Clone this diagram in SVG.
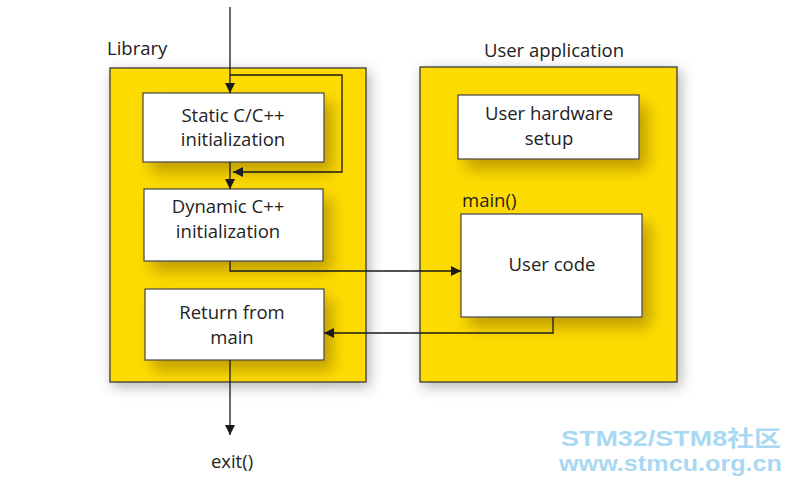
<svg xmlns="http://www.w3.org/2000/svg" width="792" height="484" viewBox="0 0 792 484">
<defs>
<filter id="outerShadow" x="-20%" y="-20%" width="140%" height="140%">
<feGaussianBlur in="SourceAlpha" stdDeviation="7"/>
<feOffset dx="3" dy="4" result="b"/>
<feFlood flood-color="#000" flood-opacity="0.3"/>
<feComposite in2="b" operator="in"/>
<feMerge><feMergeNode/><feMergeNode in="SourceGraphic"/></feMerge>
</filter>
<filter id="innerShadow" x="-30%" y="-30%" width="160%" height="170%">
<feGaussianBlur in="SourceAlpha" stdDeviation="8"/>
<feOffset dx="8" dy="10" result="b"/>
<feFlood flood-color="#8a6d00" flood-opacity="0.55"/>
<feComposite in2="b" operator="in"/>
<feMerge><feMergeNode/><feMergeNode in="SourceGraphic"/></feMerge>
</filter>
<marker id="arrow" viewBox="0 0 10 10" refX="10" refY="5" markerWidth="10" markerHeight="10" markerUnits="userSpaceOnUse" orient="auto">
<path d="M0,0 L10,5 L0,10 z" fill="#1a1a1a"/>
</marker>
</defs>
<style>
.outer{fill:#FFDC00;stroke:#3a3a3a;stroke-width:1.3}
.box{fill:#fff;stroke:#444;stroke-width:1.2}
.t{font-family:"Open Sans","Noto Sans",sans-serif;font-size:18.5px;fill:#222}
.c{text-anchor:middle}
.conn{fill:none;stroke:#1a1a1a;stroke-width:1.3}
.wm{font-family:"Liberation Sans","Noto Sans CJK SC",sans-serif;font-weight:bold;fill:#A9D9F2;font-size:22px}
</style>
<rect width="792" height="484" fill="#fff"/>

<g id="library">
<rect class="outer" x="110" y="68" width="256" height="314" filter="url(#outerShadow)"/>
<text class="t" x="107" y="55">Library</text>
</g>
<g id="userapp">
<rect class="outer" x="420" y="67" width="257" height="315" filter="url(#outerShadow)"/>
<text class="t c" x="554" y="57">User application</text>
<text class="t" x="462" y="207">main()</text>
</g>

<g id="static">
<rect class="box" x="143" y="93" width="181" height="69" filter="url(#innerShadow)"/>
<text class="t c" x="233" y="122">Static C/C++</text>
<text class="t c" x="233" y="146">initialization</text>
</g>
<g id="dynamic">
<rect class="box" x="144" y="189" width="179" height="72" filter="url(#innerShadow)"/>
<text class="t c" x="228" y="213">Dynamic C++</text>
<text class="t c" x="228" y="238">initialization</text>
</g>
<g id="return">
<rect class="box" x="145" y="289" width="179" height="71" filter="url(#innerShadow)"/>
<text class="t c" x="232" y="319">Return from</text>
<text class="t c" x="232" y="344">main</text>
</g>
<g id="hwsetup">
<rect class="box" x="458" y="95" width="181" height="64" filter="url(#innerShadow)"/>
<text class="t c" x="549" y="120">User hardware</text>
<text class="t c" x="549" y="145">setup</text>
</g>
<g id="usercode">
<rect class="box" x="461" y="214" width="181" height="103" filter="url(#innerShadow)"/>
<text class="t c" x="552" y="271">User code</text>
</g>
<g id="exit">
<text class="t c" x="232" y="468">exit()</text>
</g>

<g id="connectors">
<path class="conn" d="M230,7 V93" marker-end="url(#arrow)"/>
<path class="conn" d="M230,75 H342 V172 H233" marker-end="url(#arrow)"/>
<path class="conn" d="M230,162 V189" marker-end="url(#arrow)"/>
<path class="conn" d="M230,261 V271 H461" marker-end="url(#arrow)"/>
<path class="conn" d="M553,317 V333 H324" marker-end="url(#arrow)"/>
<path class="conn" d="M230,360 V435" marker-end="url(#arrow)"/>
</g>

<g id="watermark">
<text class="wm" x="561" y="446" textLength="220" lengthAdjust="spacingAndGlyphs">STM32/STM8社区</text>
<text class="wm" x="559" y="471" textLength="223" lengthAdjust="spacingAndGlyphs">www.stmcu.org.cn</text>
</g>
</svg>
